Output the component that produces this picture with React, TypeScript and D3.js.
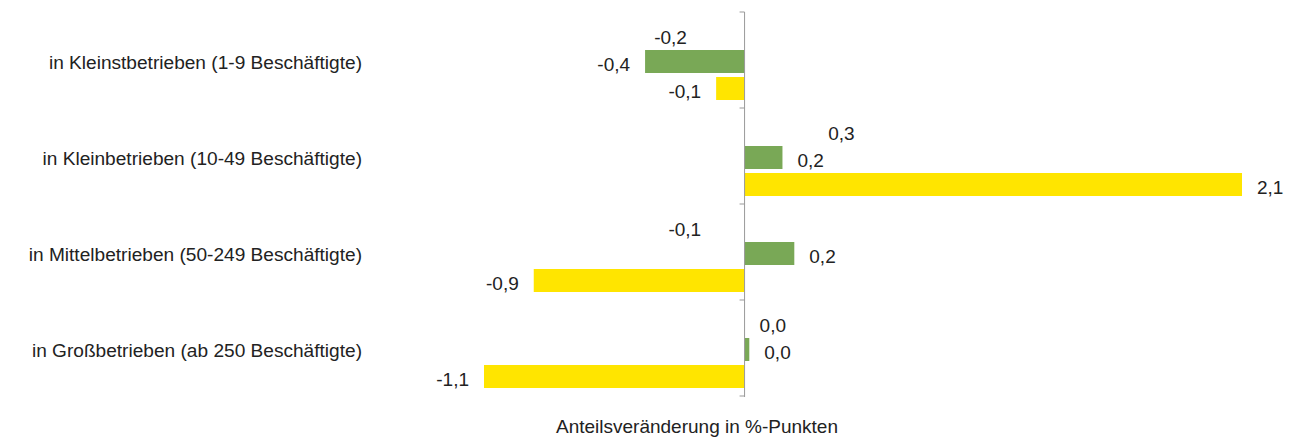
import React from "react";
import * as d3 from "d3";

const categories = [
  "in Kleinstbetrieben (1-9 Beschäftigte)",
  "in Kleinbetrieben (10-49 Beschäftigte)",
  "in Mittelbetrieben (50-249 Beschäftigte)",
  "in Großbetrieben (ab 250 Beschäftigte)",
];
const seriesKeys = ["hidden", "green", "yellow"];
const hiddenValues = [-0.18, 0.29, -0.12, 0.0];
const greenValues = [-0.42, 0.16, 0.21, 0.02];
const yellowValues = [-0.12, 2.1, -0.89, -1.1];
const axisTitle = "Anteilsveränderung in %-Punkten";

const seriesValues: Record<string, number[]> = {
  hidden: hiddenValues,
  green: greenValues,
  yellow: yellowValues,
};
const seriesColors: Record<string, string> = {
  hidden: "none",
  green: "#79a856",
  yellow: "#ffe500",
};

const W = 1290;
const H = 440;
const FONT = "'Liberation Sans', Arial, sans-serif";

export default function App() {
  const x = d3.scaleLinear().domain([-1.1, 2.1]).range([484, 1242]);
  const y = d3.scaleBand<string>().domain(categories).range([12, 396]);
  const inner = d3
    .scaleBand<string>()
    .domain(seriesKeys)
    .range([11, 88])
    .paddingInner(0.148);
  const fmt = (v: number) =>
    d3.format(".1f")(v).replace("\u2212", "-").replace("-0.0", "0.0").replace(".", ",");
  const x0 = x(0);
  const gap = 15;

  return (
    <svg
      width={W}
      height={H}
      style={{ position: "absolute", left: 0, top: 0, background: "#fff" }}
      fontFamily={FONT}
    >
      <rect x={0} y={0} width={W} height={H} fill="#fff" />
      {categories.map((c, i) => {
        const by = y(c)!;
        return (
          <g key={c}>
            <text
              x={362}
              y={by + y.bandwidth() / 2 + 2}
              textAnchor="end"
              dominantBaseline="central"
              fontSize={19.1}
              fill="#222"
            >
              {c}
            </text>
            {seriesKeys.map((k) => {
              const v = seriesValues[k][i];
              const yy = by + inner(k)!;
              const bx = Math.min(x(v), x0);
              const bw = Math.abs(x(v) - x0);
              const neg = v < 0;
              return (
                <g key={k}>
                  {seriesColors[k] !== "none" && (
                    <rect x={bx} y={yy} width={bw} height={inner.bandwidth()} fill={seriesColors[k]} />
                  )}
                  <text
                    x={neg ? x(v) - gap : x(v) + gap}
                    y={yy + inner.bandwidth() / 2 + 3}
                    textAnchor={neg ? "end" : "start"}
                    dominantBaseline="central"
                    fontSize={19}
                    fill="#222"
                  >
                    {fmt(v)}
                  </text>
                </g>
              );
            })}
          </g>
        );
      })}
      <line x1={x0} x2={x0} y1={12} y2={397} stroke="#999" strokeWidth={1} />
      {[...categories.map((c) => y(c)!), 396].map((t, i) => (
        <line key={i} x1={x0 - 5} x2={x0} y1={t} y2={t} stroke="#999" strokeWidth={1} />
      ))}
      <text x={697} y={426} textAnchor="middle" dominantBaseline="central" fontSize={19} fill="#222">
        {axisTitle}
      </text>
    </svg>
  );
}
